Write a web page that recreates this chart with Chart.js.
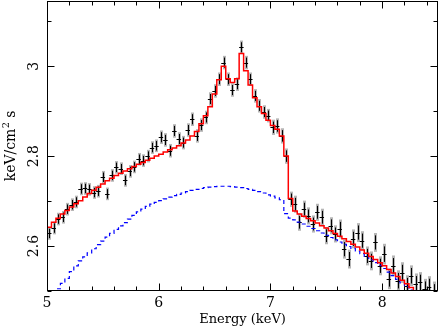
<!DOCTYPE html>
<html>
<head>
<meta charset="utf-8">
<script src="https://cdn.jsdelivr.net/npm/chart.js@4"></script>
<style>
  html, body { margin: 0; padding: 0; background: #fff; }
  #wrap { width: 440px; height: 327px; }
</style>
</head>
<body>
<div id="wrap"><canvas id="spectrum"></canvas></div>
<script>
// bin centres (keV), 0.04 keV wide
const energies = [
  4.98, 5.02, 5.06, 5.10, 5.14, 5.18, 5.22, 5.26, 5.30, 5.34,
  5.38, 5.42, 5.46, 5.50, 5.54, 5.58, 5.62, 5.66, 5.70, 5.74,
  5.78, 5.82, 5.86, 5.90, 5.94, 5.98, 6.02, 6.06, 6.10, 6.14,
  6.18, 6.22, 6.26, 6.30, 6.34, 6.38, 6.42, 6.46, 6.50, 6.54,
  6.58, 6.62, 6.66, 6.70, 6.74, 6.78, 6.82, 6.86, 6.90, 6.94,
  6.98, 7.02, 7.06, 7.10, 7.14, 7.18, 7.22, 7.26, 7.30, 7.34,
  7.38, 7.42, 7.46, 7.50, 7.54, 7.58, 7.62, 7.66, 7.70, 7.74,
  7.78, 7.82, 7.86, 7.90, 7.94, 7.98, 8.02, 8.06, 8.10, 8.14,
  8.18, 8.22, 8.26, 8.30, 8.34, 8.38, 8.42, 8.46, 8.50
];

// measured spectrum
const observed = [
  null, 2.628, 2.640, 2.660, 2.664, 2.682, 2.692, 2.698, 2.727, 2.728,
  2.726, 2.719, 2.722, 2.753, 2.716, 2.757, 2.775, 2.772, 2.746, 2.766,
  2.776, 2.793, 2.790, 2.800, 2.819, 2.823, 2.842, 2.836, 2.812, 2.856,
  2.838, 2.830, 2.858, 2.882, 2.845, 2.869, 2.886, 2.927, 2.945, 2.971,
  3.008, 2.971, 2.947, 2.960, 3.042, 3.008, 2.971, 2.934, 2.912, 2.898,
  2.890, 2.864, 2.867, 2.845, 2.800, 2.704, 2.693, 2.653, 2.682, 2.667,
  2.649, 2.675, 2.664, 2.623, 2.645, 2.627, 2.638, 2.593, 2.571, 2.616,
  2.630, 2.612, 2.578, 2.567, 2.608, 2.556, 2.582, 2.527, 2.556, 2.523,
  2.541, 2.512, 2.534, 2.516, 2.519, 2.504, 2.510, 2.498, null
];

const observedErr = [
  0.014, 0.014, 0.014, 0.014, 0.014, 0.014, 0.014, 0.014, 0.014, 0.014,
  0.014, 0.014, 0.014, 0.014, 0.014, 0.014, 0.014, 0.014, 0.014, 0.014,
  0.014, 0.014, 0.014, 0.014, 0.014, 0.014, 0.015, 0.015, 0.015, 0.015,
  0.015, 0.015, 0.015, 0.015, 0.015, 0.015, 0.015, 0.015, 0.015, 0.015,
  0.015, 0.015, 0.015, 0.015, 0.015, 0.015, 0.015, 0.015, 0.015, 0.015,
  0.015, 0.017, 0.017, 0.017, 0.017, 0.017, 0.019, 0.019, 0.019, 0.019,
  0.019, 0.019, 0.019, 0.019, 0.019, 0.019, 0.021, 0.021, 0.021, 0.021,
  0.021, 0.021, 0.021, 0.021, 0.021, 0.021, 0.023, 0.023, 0.023, 0.023,
  0.023, 0.023, 0.023, 0.023, 0.023, 0.023, 0.023, 0.023, 0.023
];

// full model (red)
const modelTotal = [
  2.630, 2.642, 2.653, 2.662, 2.671, 2.679, 2.687, 2.694, 2.701, 2.709,
  2.717, 2.724, 2.731, 2.738, 2.745, 2.751, 2.757, 2.762, 2.767, 2.772,
  2.777, 2.782, 2.786, 2.791, 2.795, 2.800, 2.804, 2.809, 2.814, 2.818,
  2.823, 2.829, 2.836, 2.845, 2.855, 2.872, 2.890, 2.910, 2.938, 2.970,
  3.000, 2.972, 2.964, 2.972, 3.028, 2.990, 2.958, 2.930, 2.910, 2.895,
  2.880, 2.868, 2.860, 2.845, 2.800, 2.706, 2.678, 2.671, 2.666, 2.661,
  2.656, 2.651, 2.645, 2.640, 2.634, 2.628, 2.622, 2.616, 2.610, 2.604,
  2.598, 2.591, 2.584, 2.577, 2.570, 2.563, 2.556, 2.548, 2.540, 2.532,
  2.524, 2.516, 2.508, 2.500, 2.492, 2.484, 2.476, 2.468, 2.460
];

// continuum component (blue, dashed)
const modelCont = [
  2.470, 2.482, 2.494, 2.505, 2.517, 2.528, 2.543, 2.556, 2.567, 2.576,
  2.585, 2.594, 2.603, 2.611, 2.620, 2.628, 2.637, 2.645, 2.652, 2.660,
  2.668, 2.676, 2.682, 2.688, 2.693, 2.697, 2.701, 2.705, 2.709, 2.712,
  2.715, 2.718, 2.721, 2.724, 2.726, 2.728, 2.730, 2.731, 2.732, 2.733,
  2.733, 2.733, 2.732, 2.731, 2.730, 2.728, 2.726, 2.724, 2.721, 2.718,
  2.714, 2.711, 2.707, 2.703, 2.672, 2.662, 2.658, 2.653, 2.649, 2.644,
  2.639, 2.634, 2.629, 2.624, 2.619, 2.614, 2.609, 2.604, 2.599, 2.595,
  2.589, 2.583, 2.577, 2.570, 2.563, 2.557, 2.550, 2.542, 2.534, 2.526,
  2.518, 2.510, 2.502, 2.494, 2.486, 2.478, 2.470, 2.462, 2.454
];

const binHalfWidth = 0.02;

const xTicks = [5, 6, 7, 8];
const xTickLabels = ['5', '6', '7', '8'];
const xMinorTicks = [5.2, 5.4, 5.6, 5.8, 6.2, 6.4, 6.6, 6.8, 7.2, 7.4, 7.6, 7.8, 8.2, 8.4];
const yTicks = [2.6, 2.8, 3.0];
const yTickLabels = ['2.6', '2.8', '3'];
const yMinorTicks = [2.5, 2.7, 2.9, 3.1];

const FONT = '"DejaVu Serif", "Liberation Serif", serif';

/**
 * Build {x, y} points from the parallel arrays
 */
function toPoints(values) {
    return energies.map((e, i) => ({ x: e, y: values[i] }));
}

/**
 * Error bars for the observed spectrum, drawn under the model lines
 */
const errorBarPlugin = {
    id: 'errorBars',
    beforeDatasetsDraw(chart) {
        const ctx = chart.ctx;
        const area = chart.chartArea;
        const xs = chart.scales.x;
        const ys = chart.scales.y;

        ctx.save();
        ctx.beginPath();
        ctx.rect(area.left, area.top, area.right - area.left, area.bottom - area.top);
        ctx.clip();

        energies.forEach((e, i) => {
            const v = observed[i];
            if (v === null) return;
            const err = observedErr[i];
            const px = Math.round(xs.getPixelForValue(e));
            const py = ys.getPixelForValue(v);
            const top = ys.getPixelForValue(v + err);
            const bottom = ys.getPixelForValue(v - err);

            // soft grey band
            ctx.fillStyle = 'rgba(110, 110, 110, 0.5)';
            ctx.fillRect(px - 1, top, 3, bottom - top);

            // black cross
            ctx.strokeStyle = '#000';
            ctx.lineWidth = 1;
            ctx.beginPath();
            ctx.moveTo(px + 0.5, ys.getPixelForValue(v + err * 0.75));
            ctx.lineTo(px + 0.5, ys.getPixelForValue(v - err * 0.75));
            ctx.moveTo(xs.getPixelForValue(e - binHalfWidth), Math.round(py) + 0.5);
            ctx.lineTo(xs.getPixelForValue(e + binHalfWidth), Math.round(py) + 0.5);
            ctx.stroke();
        });
        ctx.restore();
    }
};

/**
 * Frame with inward ticks on all four sides, labels and axis titles
 */
const framePlugin = {
    id: 'frame',
    afterDraw(chart) {
        const ctx = chart.ctx;
        const a = chart.chartArea;
        const xs = chart.scales.x;
        const ys = chart.scales.y;
        const L = Math.round(a.left) + 0.5;
        const R = Math.round(a.right) - 0.5;
        const T = Math.round(a.top) + 0.5;
        const B = Math.round(a.bottom) - 0.5;

        ctx.save();
        ctx.strokeStyle = '#000';
        ctx.lineWidth = 1;
        ctx.strokeRect(L, T, R - L, B - T);

        ctx.beginPath();
        const xTick = (val, len) => {
            const p = Math.round(xs.getPixelForValue(val)) + 0.5;
            ctx.moveTo(p, B); ctx.lineTo(p, B - len);
            ctx.moveTo(p, T); ctx.lineTo(p, T + len);
        };
        const yTick = (val, len) => {
            const p = Math.round(ys.getPixelForValue(val)) + 0.5;
            ctx.moveTo(L, p); ctx.lineTo(L + len, p);
            ctx.moveTo(R, p); ctx.lineTo(R - len, p);
        };
        xTicks.forEach(v => xTick(v, 7));
        xMinorTicks.forEach(v => xTick(v, 4));
        yTicks.forEach(v => yTick(v, 7));
        yMinorTicks.forEach(v => yTick(v, 4));
        ctx.stroke();

        ctx.fillStyle = '#000';
        ctx.font = '14px ' + FONT;

        // x tick labels
        ctx.textAlign = 'center';
        ctx.textBaseline = 'alphabetic';
        xTicks.forEach((v, i) => {
            ctx.fillText(xTickLabels[i], xs.getPixelForValue(v), 307);
        });

        // y tick labels, rotated
        yTicks.forEach((v, i) => {
            ctx.save();
            ctx.translate(38, ys.getPixelForValue(v));
            ctx.rotate(-Math.PI / 2);
            ctx.fillText(yTickLabels[i], 0, 0);
            ctx.restore();
        });

        // x title
        ctx.font = '13px ' + FONT;
        ctx.fillText('Energy (keV)', (a.left + a.right) / 2, 323);

        // y title: keV/cm^2 s
        const main = 'keV/cm';
        const sup = '2';
        const tail = ' s';
        ctx.font = '14px ' + FONT;
        const wMain = ctx.measureText(main).width;
        const wTail = ctx.measureText(tail).width;
        ctx.font = '10px ' + FONT;
        const wSup = ctx.measureText(sup).width;
        const total = wMain + wSup + wTail;

        ctx.save();
        ctx.translate(15, (a.top + a.bottom) / 2);
        ctx.rotate(-Math.PI / 2);
        ctx.textAlign = 'left';
        const x0 = -total / 2;
        ctx.font = '14px ' + FONT;
        ctx.fillText(main, x0, 0);
        ctx.font = '10px ' + FONT;
        ctx.fillText(sup, x0 + wMain + 0.5, -6);
        ctx.font = '14px ' + FONT;
        ctx.fillText(tail, x0 + wMain + wSup, 0);
        ctx.restore();

        ctx.restore();
    }
};

new Chart(document.getElementById('spectrum'), {
    type: 'line',
    data: {
        datasets: [
            {
                label: 'data',
                data: toPoints(observed),
                showLine: false,
                pointRadius: 0,
                order: 3
            },
            {
                label: 'continuum',
                data: toPoints(modelCont),
                borderColor: '#0000ff',
                borderWidth: 1.2,
                borderDash: [4, 3],
                stepped: 'middle',
                pointRadius: 0,
                order: 2
            },
            {
                label: 'model',
                data: toPoints(modelTotal),
                borderColor: '#ff0000',
                borderWidth: 1.5,
                stepped: 'middle',
                pointRadius: 0,
                order: 1
            }
        ]
    },
    options: {
        responsive: true,
        maintainAspectRatio: false,
        devicePixelRatio: 1,
        animation: false,
        layout: { padding: { left: 47, right: 2, top: 1, bottom: 36 } },
        plugins: {
            legend: { display: false },
            tooltip: { enabled: false }
        },
        scales: {
            x: { type: 'linear', min: 5, max: 8.5, display: false },
            y: { type: 'linear', min: 2.5, max: 3.145, display: false }
        }
    },
    plugins: [errorBarPlugin, framePlugin]
});
</script>
</body>
</html>
